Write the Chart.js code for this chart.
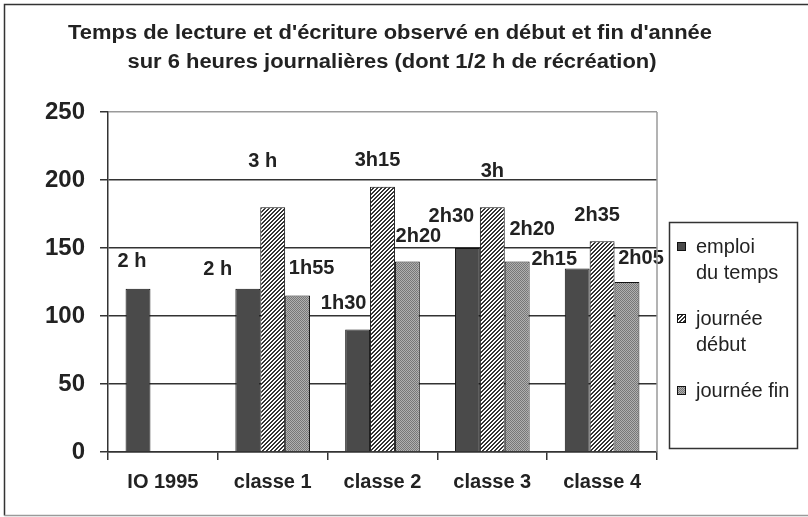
<!DOCTYPE html>
<html>
<head>
<meta charset="utf-8">
<script src="https://cdn.jsdelivr.net/npm/chart.js@4.4.1/dist/chart.umd.min.js"></script>
<style>
  html, body { margin: 0; padding: 0; background: #fff; }
  canvas { display: block; }
</style>
</head>
<body>
<canvas id="chart" width="808" height="517"></canvas>
<script>
// data (minutes)
const categories = ['IO 1995', 'classe 1', 'classe 2', 'classe 3', 'classe 4'];
const emploiDuTemps = [120, 120, 90, 150, 135];
const journeeDebut = [null, 180, 195, 180, 155];
const journeeFin = [null, 115, 140, 140, 125];
const emploiLabels = ['2 h', '2 h', '1h30', '2h30', '2h15'];
const debutLabels = [null, '3 h', '3h15', '3h', '2h35'];
const finLabels = [null, '1h55', '2h20', '2h20', '2h05'];
const yTicks = [0, 50, 100, 150, 200, 250];
const titleLines = [
  "Temps de lecture et d'écriture observé en début et fin d'année",
  "sur 6 heures journalières (dont 1/2 h de récréation)"
];

// where each value label sits relative to the top of its bar (px)
const labelOffsets = [
  [[-6, -27], [-30, -19], [-14, -26], [-16, -32], [-23, -9]],
  [null, [-10, -46], [-5, -26], [0, -36], [-5, -26]],
  [null, [14, -27], [11, -25], [15, -32], [14, -24]]
];

const TXT = '#222';
const LINE = '#333';

function makePattern(kind) {
  const c = document.createElement('canvas');
  c.width = 4; c.height = 4;
  const g = c.getContext('2d');
  if (kind === 'hatch') {
    g.fillStyle = '#fff';
    g.fillRect(0, 0, 4, 4);
    g.fillStyle = '#333';
    for (let x = 0; x < 4; x++) {
      for (let y = 0; y < 4; y++) {
        if ((x + y) % 4 < 2) g.fillRect(x, y, 1, 1);
      }
    }
  } else {
    for (let x = 0; x < 4; x++) {
      for (let y = 0; y < 4; y++) {
        g.fillStyle = (x + y) % 2 ? '#b0b0b0' : '#777';
        g.fillRect(x, y, 1, 1);
      }
    }
  }
  return document.getElementById('chart').getContext('2d').createPattern(c, 'repeat');
}

const hatch = makePattern('hatch');
const dots = makePattern('dots');
const allLabels = [emploiLabels, debutLabels, finLabels];

const decorPlugin = {
  id: 'decor',
  beforeDraw(chart) {
    const ctx = chart.ctx;
    ctx.save();
    ctx.fillStyle = '#fff';
    ctx.fillRect(0, 0, chart.width, chart.height);
    ctx.lineWidth = 1.5;
    ctx.strokeStyle = LINE;
    ctx.beginPath();
    ctx.moveTo(4.5, 515.5);
    ctx.lineTo(4.5, 4.5);
    ctx.lineTo(chart.width, 4.5);
    ctx.stroke();
    ctx.strokeStyle = '#9a9a9a';
    ctx.beginPath();
    ctx.moveTo(4.5, 515.5);
    ctx.lineTo(chart.width, 515.5);
    ctx.stroke();
    ctx.restore();
  },
  afterDatasetsDraw(chart) {
    const ctx = chart.ctx;
    ctx.save();
    ctx.font = 'bold 20px "Liberation Sans", Arial, sans-serif';
    ctx.fillStyle = TXT;
    ctx.textAlign = 'center';
    ctx.textBaseline = 'middle';
    chart.data.datasets.forEach((ds, d) => {
      const meta = chart.getDatasetMeta(d);
      meta.data.forEach((bar, i) => {
        const txt = allLabels[d][i];
        const off = labelOffsets[d][i];
        if (!txt || !off || ds.data[i] == null) return;
        ctx.fillText(txt, bar.x + off[0], bar.y + off[1]);
      });
    });
    ctx.restore();
  },
  afterDraw(chart) {
    const ctx = chart.ctx;
    const area = chart.chartArea;
    ctx.save();
    // right edge of plot area
    ctx.strokeStyle = '#9a9a9a';
    ctx.lineWidth = 1.5;
    ctx.beginPath();
    ctx.moveTo(area.right, area.top);
    ctx.lineTo(area.right, area.bottom);
    ctx.stroke();

    // title, fitted to the width it has in the picture
    ctx.fillStyle = TXT;
    ctx.font = 'bold 20px "Liberation Sans Narrow", "Liberation Sans", Arial, sans-serif';
    ctx.textAlign = 'center';
    ctx.textBaseline = 'middle';
    const spans = [[390, 33, 644], [392, 62, 529]];
    titleLines.forEach((t, k) => {
      const w = ctx.measureText(t).width;
      ctx.save();
      ctx.translate(spans[k][0], spans[k][1]);
      ctx.scale(spans[k][2] / w, 1);
      ctx.fillText(t, 0, 0);
      ctx.restore();
    });

    // legend
    ctx.strokeStyle = LINE;
    ctx.lineWidth = 1.5;
    ctx.strokeRect(669.5, 222.5, 128, 226);
    ctx.font = '20px "Liberation Sans", Arial, sans-serif';
    ctx.textAlign = 'left';
    let y = 247;
    chart.data.datasets.forEach((ds) => {
      ctx.fillStyle = ds.backgroundColor;
      ctx.fillRect(677, y - 5, 9, 9);
      ctx.strokeStyle = '#111';
      ctx.lineWidth = 1;
      ctx.strokeRect(677.5, y - 4.5, 8, 8);
      ctx.fillStyle = TXT;
      const lines = Array.isArray(ds.label) ? ds.label : [ds.label];
      lines.forEach((l, k) => ctx.fillText(l, 696, y + k * 26.5));
      y += lines.length * 26.5 + 19;
    });
    ctx.restore();
  }
};

new Chart(document.getElementById('chart'), {
  type: 'bar',
  data: {
    labels: categories,
    datasets: [
      {
        label: ['emploi', 'du temps'],
        data: emploiDuTemps,
        backgroundColor: '#4a4a4a',
        borderColor: '#111',
        borderWidth: 1
      },
      {
        label: ['journée', 'début'],
        data: journeeDebut,
        backgroundColor: hatch,
        borderColor: '#111',
        borderWidth: 1
      },
      {
        label: ['journée fin'],
        data: journeeFin,
        backgroundColor: dots,
        borderColor: '#111',
        borderWidth: 1
      }
    ]
  },
  options: {
    responsive: false,
    animation: false,
    devicePixelRatio: 1,
    layout: { padding: { top: 112, right: 151, left: 0, bottom: 0 } },
    datasets: {
      bar: { categoryPercentage: 0.68, barPercentage: 1 }
    },
    plugins: {
      legend: { display: false },
      title: { display: false },
      tooltip: { enabled: false }
    },
    scales: {
      x: {
        afterFit: (scale) => { scale.height = 65; },
        grid: {
          drawOnChartArea: false,
          offset: true,
          tickLength: 8,
          color: LINE,
          lineWidth: 1.5
        },
        border: { color: LINE, width: 1.5 },
        ticks: {
          color: TXT,
          padding: 10,
          font: { family: '"Liberation Sans", Arial, sans-serif', size: 20, weight: 'bold' }
        }
      },
      y: {
        min: 0,
        max: 250,
        afterFit: (scale) => { scale.width = 108; },
        afterBuildTicks: (scale) => { scale.ticks = yTicks.map(v => ({ value: v })); },
        grid: {
          tickLength: 8,
          color: (c) => c.tick && c.tick.value === 250 ? '#9a9a9a' : LINE,
          tickColor: LINE,
          lineWidth: 1.5
        },
        border: { color: LINE, width: 1.5 },
        ticks: {
          color: TXT,
          padding: 15,
          font: { family: '"Liberation Sans", Arial, sans-serif', size: 24, weight: 'bold' }
        }
      }
    }
  },
  plugins: [decorPlugin]
});
</script>
</body>
</html>
